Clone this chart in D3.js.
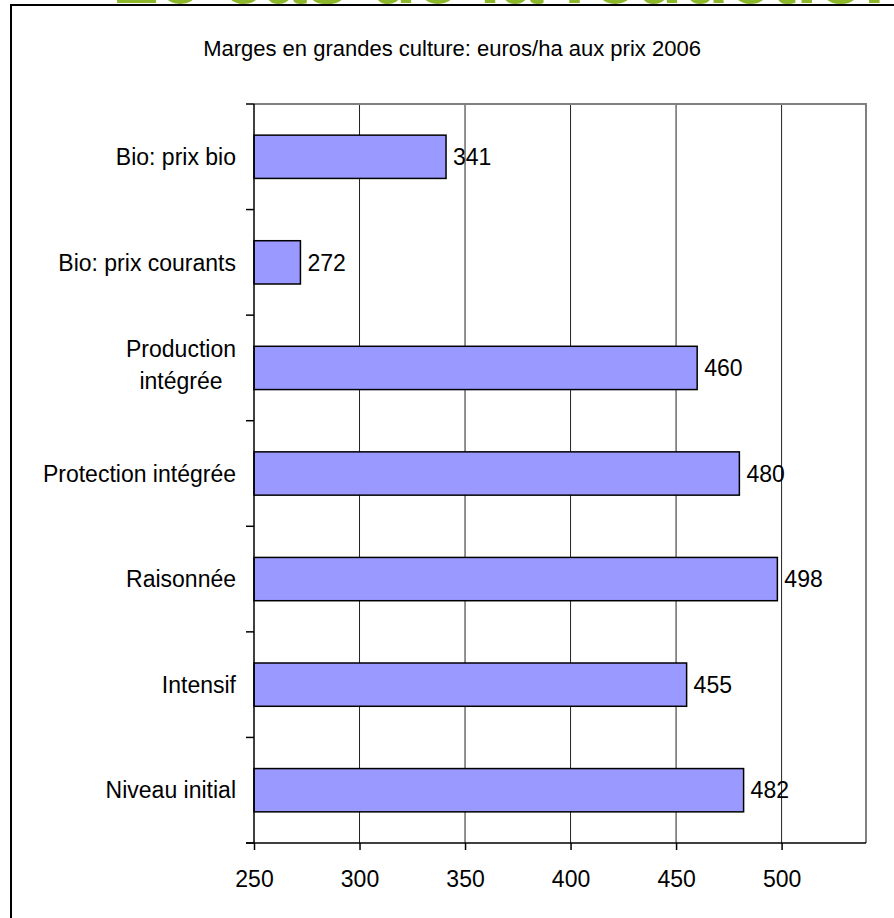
<!DOCTYPE html>
<html>
<head>
<meta charset="utf-8">
<script src="https://cdn.jsdelivr.net/npm/d3@7"></script>
<style>
  body { margin: 0; background: #fff; }
  svg { display: block; font-family: 'Liberation Sans', Arial, sans-serif; }
</style>
</head>
<body>
<svg width="894" height="918"></svg>
<script>
const categories = [
  ['Bio: prix bio'],
  ['Bio: prix courants'],
  ['Production', 'intégrée'],
  ['Protection intégrée'],
  ['Raisonnée'],
  ['Intensif'],
  ['Niveau initial']
];
const values = [341, 272, 460, 480, 498, 455, 482];
const xTicks = [250, 300, 350, 400, 450, 500];
const title = 'Marges en grandes culture: euros/ha aux prix 2006';
const slideTitle = 'Le cas de la réduction des pesticides';

const svg = d3.select('svg');
const width = +svg.attr('width');
const height = +svg.attr('height');

const fontSize = 23;
const rows = categories.map((c, i) => ({ lines: c, key: c.join(' '), value: values[i] }));

// slide heading, mostly cut off at the top
svg.append('text')
  .attr('x', 112)
  .attr('y', 3)
  .attr('fill', '#8db82b')
  .attr('font-size', 76)
  .attr('font-weight', 'bold')
  .text(slideTitle);

// chart frame
svg.append('rect')
  .attr('x', 11)
  .attr('y', 5)
  .attr('width', width)
  .attr('height', height)
  .attr('fill', '#fff')
  .attr('stroke', '#000')
  .attr('stroke-width', 2);

svg.append('text')
  .attr('x', 452)
  .attr('y', 56)
  .attr('text-anchor', 'middle')
  .attr('font-size', 22)
  .text(title);

const plot = { left: 254, right: 866, top: 104, bottom: 843 };

const x = d3.scaleLinear()
  .domain([250, 540])
  .range([plot.left, plot.right]);

const y = d3.scaleBand()
  .domain(rows.map(d => d.key))
  .range([plot.top, plot.bottom])
  .paddingInner(0.59)
  .paddingOuter(0.295);

// grid lines
svg.append('g')
  .selectAll('line')
  .data(xTicks.slice(1))
  .enter().append('line')
    .attr('x1', d => x(d))
    .attr('x2', d => x(d))
    .attr('y1', plot.top)
    .attr('y2', plot.bottom)
    .attr('stroke', '#222')
    .attr('stroke-width', 1);

// gray top/right border of plot area
svg.append('path')
  .attr('d', `M${plot.left},${plot.top}H${plot.right}V${plot.bottom}`)
  .attr('fill', 'none')
  .attr('stroke', '#808080')
  .attr('stroke-width', 2);

// bars
svg.append('g')
  .selectAll('rect')
  .data(rows)
  .enter().append('rect')
    .attr('x', x(250))
    .attr('y', d => y(d.key))
    .attr('width', d => x(d.value) - x(250))
    .attr('height', y.bandwidth())
    .attr('fill', '#9999ff')
    .attr('stroke', '#000')
    .attr('stroke-width', 1.5);

// value labels
svg.append('g')
  .selectAll('text')
  .data(rows)
  .enter().append('text')
    .attr('x', d => x(d.value) + 7)
    .attr('y', d => y(d.key) + y.bandwidth() / 2)
    .attr('dy', '0.36em')
    .attr('font-size', fontSize)
    .text(d => d.value);

// x axis
const xAxis = svg.append('g')
  .attr('transform', `translate(0,${plot.bottom})`)
  .call(d3.axisBottom(x).tickValues(xTicks).tickSize(7).tickSizeOuter(0).tickPadding(21));
xAxis.select('.domain').remove();
xAxis.selectAll('line').attr('stroke', '#000').attr('stroke-width', 1.5);
xAxis.selectAll('text')
  .attr('font-size', fontSize)
  .attr('font-family', "'Liberation Sans', Arial, sans-serif")
  .attr('fill', '#000');

svg.append('line')
  .attr('x1', plot.left - 8).attr('x2', plot.right)
  .attr('y1', plot.bottom).attr('y2', plot.bottom)
  .attr('stroke', '#000').attr('stroke-width', 1.5);

// y axis line and boundary ticks
svg.append('line')
  .attr('x1', plot.left).attr('x2', plot.left)
  .attr('y1', plot.top).attr('y2', plot.bottom)
  .attr('stroke', '#000').attr('stroke-width', 1.5);

const step = y.step();
const bounds = d3.range(rows.length + 1).map(i => plot.top + i * step);
svg.append('g')
  .selectAll('line')
  .data(bounds)
  .enter().append('line')
    .attr('x1', plot.left - 8)
    .attr('x2', plot.left)
    .attr('y1', d => d)
    .attr('y2', d => d)
    .attr('stroke', '#000')
    .attr('stroke-width', 1.5);

// category labels
const labelRight = 236;
const lineH = 32;
const labels = svg.append('g')
  .selectAll('text')
  .data(rows)
  .enter().append('text')
    .attr('font-size', fontSize)
    .attr('fill', '#000');

labels.each(function (d) {
  const t = d3.select(this);
  const cy = y(d.key) + y.bandwidth() / 2;
  if (d.lines.length === 1) {
    t.attr('x', labelRight).attr('y', cy).attr('dy', '0.36em')
      .attr('text-anchor', 'end').text(d.lines[0]);
  } else {
    // multi-line labels are centred within a right-aligned block
    t.attr('text-anchor', 'middle');
    const spans = d.lines.map((l, i) => t.append('tspan')
      .attr('y', cy + (i - (d.lines.length - 1) / 2) * lineH - 3)
      .attr('dy', '0.36em')
      .text(l));
    const w = d3.max(spans, s => s.node().getComputedTextLength());
    spans.forEach(s => s.attr('x', labelRight - w / 2));
  }
});
</script>
</body>
</html>
